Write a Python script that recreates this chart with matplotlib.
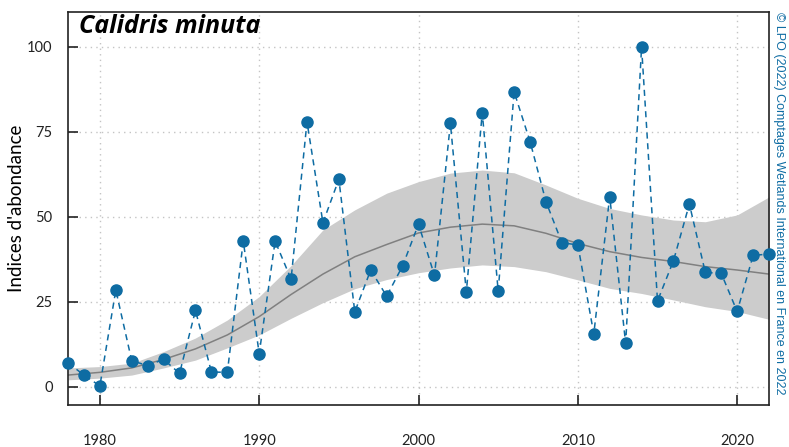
import matplotlib.pyplot as plt
import numpy as np

# ---------- données ----------
years = list(range(1978, 2023))
indices = [7.1, 3.5, 0.3, 28.5, 7.7, 6.3, 8.1, 4.0, 22.5, 4.4,
           4.3, 42.9, 9.8, 42.9, 31.7, 78.0, 48.3, 61.1, 22.1, 34.4,
           26.7, 35.6, 47.9, 32.8, 77.5, 27.9, 80.7, 28.2, 86.8, 72.2,
           54.5, 42.4, 41.8, 15.6, 56.0, 12.8, 100.0, 25.3, 37.1, 53.8,
           33.7, 33.4, 22.2, 38.7, 39.1]

# tendance lissée + intervalle
trend_years = [1978, 1980, 1982, 1984, 1986, 1988, 1990, 1992, 1994, 1996,
               1998, 2000, 2002, 2004, 2006, 2008, 2010, 2012, 2014, 2016,
               2018, 2020, 2022]
trend = [3.5, 4.3, 5.6, 8.1, 11.2, 15.3, 20.7, 27.2, 33.2, 38.3,
         41.9, 45.3, 47.0, 47.9, 47.4, 45.2, 42.2, 39.8, 38.1, 36.9,
         35.4, 34.4, 33.2]
trend_hi = [5.6, 6.0, 7.0, 10.4, 14.4, 19.7, 26.6, 35.7, 46.2, 52.1,
            57.0, 60.4, 62.9, 63.8, 63.0, 59.4, 55.5, 52.5, 50.6, 49.1,
            48.6, 50.6, 55.9]
trend_lo = [2.1, 2.6, 3.5, 5.6, 7.9, 11.5, 15.3, 20.2, 24.8, 28.9,
            31.6, 33.6, 35.0, 35.9, 35.4, 33.9, 31.5, 29.0, 27.5, 25.6,
            23.6, 22.2, 19.9]

blue = '#0e6ca3'

# ---------- figure ----------
fig = plt.figure(figsize=(7.89, 4.47), dpi=100)
ax = fig.add_axes([0.0862, 0.094, 0.8885, 0.8792])

ax.fill_between(trend_years, trend_lo, trend_hi, color='#cccccc', lw=0, zorder=1)
ax.plot(trend_years, trend, color='#808080', lw=1.1, zorder=2)
ax.plot(years, indices, color=blue, ls=(0, (4, 3)), lw=1.1, zorder=3)
ax.plot(years, indices, 'o', color=blue, ms=8, zorder=4, clip_on=False)

ax.set_xlim(1978, 2022)
ax.set_ylim(-5.3, 110.3)
ax.set_xticks([1980, 1990, 2000, 2010, 2020])
ax.set_yticks([0, 25, 50, 75, 100])

ax.grid(True, ls=(0, (1, 3)), color='#c4c4c4', lw=1)
ax.set_axisbelow(True)

for s in ax.spines.values():
    s.set_color('#222222')
    s.set_linewidth(1.2)

ax.tick_params(axis='x', direction='in', length=7, width=1.2, pad=21,
               labelsize=10.5, colors='#222222')
ax.tick_params(axis='y', direction='in', length=7, width=1.2, pad=11,
               labelsize=10.5, colors='#222222')
for lab in ax.get_xticklabels() + ax.get_yticklabels():
    lab.set_family('Lato')

ax.set_ylabel("Indices d'abondance", fontsize=13.5, family='Lato')
ax.yaxis.set_label_coords(-0.061, 0.5)

ax.text(0.015, 0.995, 'Calidris minuta', transform=ax.transAxes,
        fontsize=18, family='Open Sans', weight='bold', style='italic',
        va='top', ha='left')

fig.text(0.987, 0.973, '© LPO (2022) Comptages Wetlands International en France en 2022',
         rotation=-90, color=blue, fontsize=9, family='Liberation Sans',
         va='top', ha='center')

fig.savefig('out.png', dpi=100)
